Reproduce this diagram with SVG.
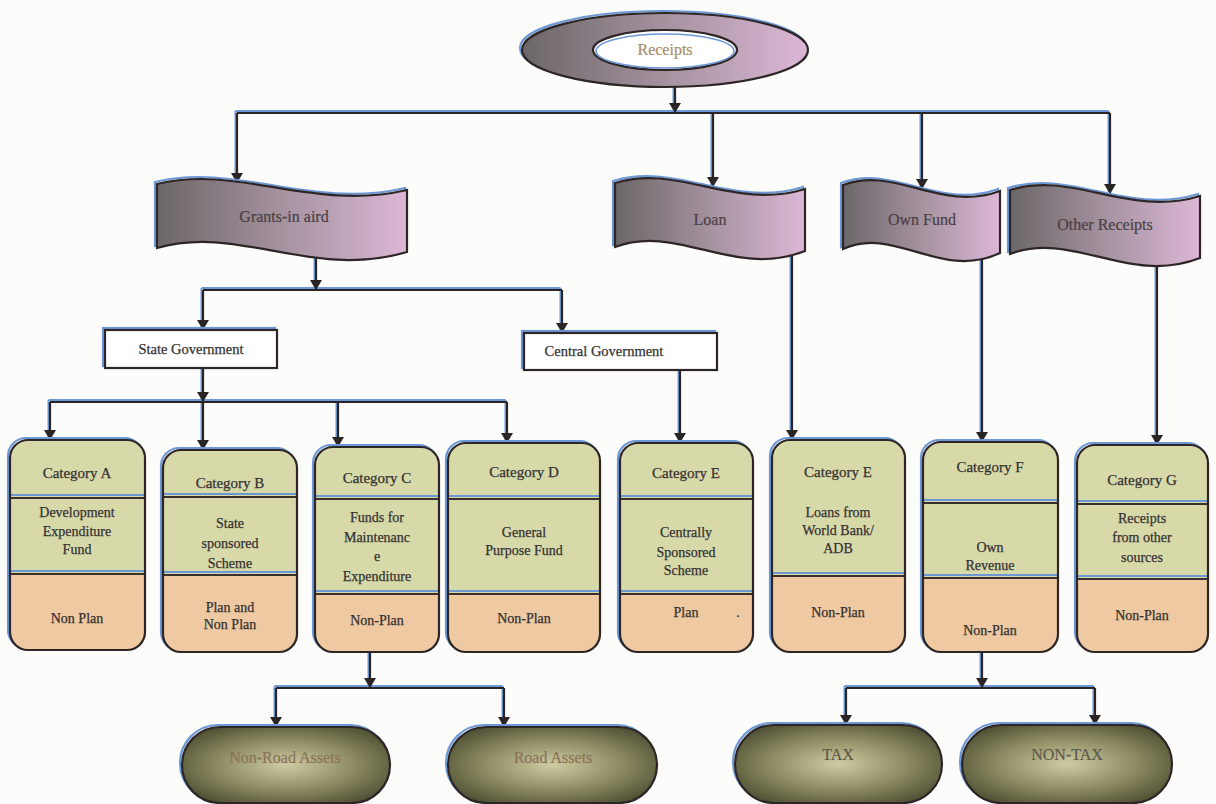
<svg xmlns="http://www.w3.org/2000/svg" xmlns:xlink="http://www.w3.org/1999/xlink" width="1216" height="804" viewBox="0 0 1216 804">
<style>
text{font-family:"Liberation Serif","Times New Roman",serif;text-anchor:middle;}
.t{font-size:14px;fill:#343232;stroke:#343232;stroke-width:0.25;}
.h{font-size:15px;}
.bt{font-size:16px;fill:#4a4042;stroke:#4a4042;stroke-width:0.2;}
.ot{font-size:16px;fill:#8a7358;stroke:#8a7358;stroke-width:0.2;}
.halo{fill:none;stroke:#6d98d6;stroke-width:2.2;}
.edge{stroke:#2e2626;stroke-width:2.2;}
.nofill{fill:none;}
.peach{fill:#efc9a1;}
.green{fill:#d8d9a9;}
.divb{stroke:#6d98d6;stroke-width:2;}
.divd{stroke:#3a2f2c;stroke-width:2;}
.wireS{fill:none;stroke:#6d98d6;stroke-width:2;}
.wireD{fill:none;stroke:#2b2424;stroke-width:2.2;}
</style>
<defs>
<linearGradient id="gBan" x1="0" y1="0" x2="1" y2="0">
<stop offset="0" stop-color="#6b6668"/>
<stop offset="0.5" stop-color="#a5929f"/>
<stop offset="1" stop-color="#dcb7d6"/>
</linearGradient>
<radialGradient id="gOval" cx="0.5" cy="0.5" r="0.6">
<stop offset="0" stop-color="#cfcca3"/>
<stop offset="0.55" stop-color="#8d8b62"/>
<stop offset="1" stop-color="#4d4f33"/>
</radialGradient>
<marker id="arr" viewBox="0 0 10 12" refX="10" refY="6" markerWidth="10" markerHeight="12" markerUnits="userSpaceOnUse" orient="auto">
<path d="M0,0 L10,6 L0,12 Z" fill="#2b2424"/>
</marker>
<g id="arrows">
<path d="M675,87 V113"/>
<path d="M237,113 V183"/>
<path d="M713,113 V187"/>
<path d="M922,113 V189"/>
<path d="M1110,113 V194"/>
<path d="M316,258 V290"/>
<path d="M203,290 V330"/>
<path d="M562,290 V333"/>
<path d="M203,368 V402"/>
<path d="M50,402 V440"/>
<path d="M203,402 V450"/>
<path d="M338,402 V447"/>
<path d="M507,402 V443"/>
<path d="M680,370 V443"/>
<path d="M792,253 V440"/>
<path d="M982,256 V442"/>
<path d="M1157,264 V445"/>
<path d="M370,652 V688"/>
<path d="M276,688 V727"/>
<path d="M504,688 V727"/>
<path d="M982,652 V688"/>
<path d="M846,688 V725"/>
<path d="M1095,688 V725"/>
</g>
<g id="buses">
<path d="M237,113 H1110"/>
<path d="M203,290 H562"/>
<path d="M50,402 H507"/>
<path d="M276,688 H504"/>
<path d="M846,688 H1095"/>
</g>
</defs>
<rect width="1216" height="804" fill="#fcfcfb"/>

<g id="connectors">
<use xlink:href="#buses" class="wireS" transform="translate(-1.5,-2)"/>
<use xlink:href="#arrows" class="wireS" transform="translate(-1.5,-2)"/>
<use xlink:href="#buses" class="wireD"/>
<use xlink:href="#arrows" class="wireD" style="marker-end:url(#arr)"/>
</g>

<g id="receipts">
<ellipse cx="663" cy="48" rx="143" ry="37" class="halo"/>
<ellipse cx="665" cy="50" rx="143" ry="37" fill="url(#gBan)" class="edge"/>
<ellipse cx="665" cy="50" rx="72" ry="20" fill="#ffffff" class="edge"/>
<ellipse cx="665" cy="51" rx="69" ry="17" fill="none" stroke="#6d98d6" stroke-width="1.6"/>
<text x="665" y="55" class="bt" style="fill:#a88e6c;stroke:#a88e6c">Receipts</text>
</g>

<g id="grants" transform="translate(157,184)">
<path d="M0,0 C82,-20 155,28 250,6 L250,68 C155,96 82,40 0,64 Z" class="halo" transform="translate(-2,-2)"/>
<path d="M0,0 C82,-20 155,28 250,6 L250,68 C155,96 82,40 0,64 Z" fill="url(#gBan)" class="edge"/>
<text x="127" y="38" class="bt">Grants-in aird</text>
</g>
<g id="loan" transform="translate(615,183)">
<path d="M0,0 C63,-20 118,28 190,6 L190,68 C118,96 63,40 0,64 Z" class="halo" transform="translate(-2,-2)"/>
<path d="M0,0 C63,-20 118,28 190,6 L190,68 C118,96 63,40 0,64 Z" fill="url(#gBan)" class="edge"/>
<text x="95" y="42" class="bt">Loan</text>
</g>
<g id="ownfund" transform="translate(843,185)">
<path d="M0,0 C52,-20 97,28 157,6 L157,68 C97,96 52,40 0,64 Z" class="halo" transform="translate(-2,-2)"/>
<path d="M0,0 C52,-20 97,28 157,6 L157,68 C97,96 52,40 0,64 Z" fill="url(#gBan)" class="edge"/>
<text x="79" y="40" class="bt">Own Fund</text>
</g>
<g id="other" transform="translate(1010,190)">
<path d="M0,0 C63,-20 118,28 190,6 L190,68 C118,96 63,40 0,64 Z" class="halo" transform="translate(-2,-2)"/>
<path d="M0,0 C63,-20 118,28 190,6 L190,68 C118,96 63,40 0,64 Z" fill="url(#gBan)" class="edge"/>
<text x="95" y="40" class="bt">Other Receipts</text>
</g>

<g id="stategov">
<rect x="103" y="328" width="172" height="38" class="halo"/>
<rect x="105" y="330" width="172" height="38" fill="#ffffff" class="edge"/>
<text x="191" y="354" class="t" style="font-size:14.5px">State Government</text>
</g>
<g id="centralgov">
<rect x="522" y="331" width="193" height="37" class="halo"/>
<rect x="524" y="333" width="193" height="37" fill="#ffffff" class="edge"/>
<text x="604" y="356" class="t" style="font-size:14.5px">Central Government</text>
</g>

<g id="cat-a">
<rect x="8" y="438" width="135" height="210" rx="18" class="halo"/>
<rect x="10" y="440" width="135" height="210" rx="18" class="peach"/>
<path d="M10,573 V458 A18,18 0 0 1 28,440 H127 A18,18 0 0 1 145,458 V573 Z" class="green"/>
<line x1="10" y1="495" x2="145" y2="495" class="divb"/><line x1="10" y1="498" x2="145" y2="498" class="divd"/>
<line x1="10" y1="571" x2="145" y2="571" class="divb"/><line x1="10" y1="574" x2="145" y2="574" class="divd"/>
<rect x="10" y="440" width="135" height="210" rx="18" class="edge nofill"/>
<text x="77" y="478" class="t h">Category A</text>
<text x="77" y="517" class="t">Development</text>
<text x="77" y="536" class="t">Expenditure</text>
<text x="77" y="554" class="t">Fund</text>
<text x="77" y="623" class="t">Non Plan</text>
</g>

<g id="cat-b">
<rect x="161" y="448" width="134" height="202" rx="18" class="halo"/>
<rect x="163" y="450" width="134" height="202" rx="18" class="peach"/>
<path d="M163,574 V468 A18,18 0 0 1 181,450 H279 A18,18 0 0 1 297,468 V574 Z" class="green"/>
<line x1="163" y1="494" x2="297" y2="494" class="divb"/><line x1="163" y1="497" x2="297" y2="497" class="divd"/>
<line x1="163" y1="572" x2="297" y2="572" class="divb"/><line x1="163" y1="575" x2="297" y2="575" class="divd"/>
<rect x="163" y="450" width="134" height="202" rx="18" class="edge nofill"/>
<text x="230" y="488" class="t h">Category B</text>
<text x="230" y="528" class="t">State</text>
<text x="230" y="548" class="t">sponsored</text>
<text x="230" y="568" class="t">Scheme</text>
<text x="230" y="612" class="t">Plan and</text>
<text x="230" y="629" class="t">Non Plan</text>
</g>

<g id="cat-c">
<rect x="313" y="445" width="124" height="205" rx="18" class="halo"/>
<rect x="315" y="447" width="124" height="205" rx="18" class="peach"/>
<path d="M315,593 V465 A18,18 0 0 1 333,447 H421 A18,18 0 0 1 439,465 V593 Z" class="green"/>
<line x1="315" y1="496" x2="439" y2="496" class="divb"/><line x1="315" y1="499" x2="439" y2="499" class="divd"/>
<line x1="315" y1="591" x2="439" y2="591" class="divb"/><line x1="315" y1="594" x2="439" y2="594" class="divd"/>
<rect x="315" y="447" width="124" height="205" rx="18" class="edge nofill"/>
<text x="377" y="483" class="t h">Category C</text>
<text x="377" y="522" class="t">Funds for</text>
<text x="377" y="542" class="t">Maintenanc</text>
<text x="377" y="561" class="t">e</text>
<text x="377" y="581" class="t">Expenditure</text>
<text x="377" y="625" class="t">Non-Plan</text>
</g>

<g id="cat-d">
<rect x="446" y="441" width="152" height="209" rx="18" class="halo"/>
<rect x="448" y="443" width="152" height="209" rx="18" class="peach"/>
<path d="M448,593 V461 A18,18 0 0 1 466,443 H582 A18,18 0 0 1 600,461 V593 Z" class="green"/>
<line x1="448" y1="496" x2="600" y2="496" class="divb"/><line x1="448" y1="499" x2="600" y2="499" class="divd"/>
<line x1="448" y1="591" x2="600" y2="591" class="divb"/><line x1="448" y1="594" x2="600" y2="594" class="divd"/>
<rect x="448" y="443" width="152" height="209" rx="18" class="edge nofill"/>
<text x="524" y="477" class="t h">Category D</text>
<text x="524" y="537" class="t">General</text>
<text x="524" y="555" class="t">Purpose Fund</text>
<text x="524" y="623" class="t">Non-Plan</text>
</g>

<g id="cat-e">
<rect x="618" y="441" width="133" height="209" rx="18" class="halo"/>
<rect x="620" y="443" width="133" height="209" rx="18" class="peach"/>
<path d="M620,593 V461 A18,18 0 0 1 638,443 H735 A18,18 0 0 1 753,461 V593 Z" class="green"/>
<line x1="620" y1="496" x2="753" y2="496" class="divb"/><line x1="620" y1="499" x2="753" y2="499" class="divd"/>
<line x1="620" y1="591" x2="753" y2="591" class="divb"/><line x1="620" y1="594" x2="753" y2="594" class="divd"/>
<rect x="620" y="443" width="133" height="209" rx="18" class="edge nofill"/>
<text x="686" y="478" class="t h">Category E</text>
<text x="686" y="537" class="t">Centrally</text>
<text x="686" y="557" class="t">Sponsored</text>
<text x="686" y="575" class="t">Scheme</text>
<text x="686" y="617" class="t">Plan</text>
<text x="738" y="617" class="t">.</text>
</g>

<g id="cat-e2">
<rect x="770" y="438" width="133" height="212" rx="18" class="halo"/>
<rect x="772" y="440" width="133" height="212" rx="18" class="peach"/>
<path d="M772,575 V458 A18,18 0 0 1 790,440 H887 A18,18 0 0 1 905,458 V575 Z" class="green"/>
<line x1="772" y1="573" x2="905" y2="573" class="divb"/><line x1="772" y1="576" x2="905" y2="576" class="divd"/>
<rect x="772" y="440" width="133" height="212" rx="18" class="edge nofill"/>
<text x="838" y="477" class="t h">Category E</text>
<text x="838" y="517" class="t">Loans from</text>
<text x="838" y="535" class="t">World Bank/</text>
<text x="838" y="553" class="t">ADB</text>
<text x="838" y="617" class="t">Non-Plan</text>
</g>

<g id="cat-f">
<rect x="921" y="440" width="135" height="210" rx="18" class="halo"/>
<rect x="923" y="442" width="135" height="210" rx="18" class="peach"/>
<path d="M923,577 V460 A18,18 0 0 1 941,442 H1040 A18,18 0 0 1 1058,460 V577 Z" class="green"/>
<line x1="923" y1="500" x2="1058" y2="500" class="divb"/><line x1="923" y1="503" x2="1058" y2="503" class="divd"/>
<line x1="923" y1="575" x2="1058" y2="575" class="divb"/><line x1="923" y1="578" x2="1058" y2="578" class="divd"/>
<rect x="923" y="442" width="135" height="210" rx="18" class="edge nofill"/>
<text x="990" y="472" class="t h">Category F</text>
<text x="990" y="552" class="t">Own</text>
<text x="990" y="570" class="t">Revenue</text>
<text x="990" y="635" class="t">Non-Plan</text>
</g>

<g id="cat-g">
<rect x="1075" y="443" width="131" height="207" rx="18" class="halo"/>
<rect x="1077" y="445" width="131" height="207" rx="18" class="peach"/>
<path d="M1077,578 V463 A18,18 0 0 1 1095,445 H1190 A18,18 0 0 1 1208,463 V578 Z" class="green"/>
<line x1="1077" y1="501" x2="1208" y2="501" class="divb"/><line x1="1077" y1="504" x2="1208" y2="504" class="divd"/>
<line x1="1077" y1="576" x2="1208" y2="576" class="divb"/><line x1="1077" y1="579" x2="1208" y2="579" class="divd"/>
<rect x="1077" y="445" width="131" height="207" rx="18" class="edge nofill"/>
<text x="1142" y="485" class="t h">Category G</text>
<text x="1142" y="523" class="t">Receipts</text>
<text x="1142" y="542" class="t">from other</text>
<text x="1142" y="562" class="t">sources</text>
<text x="1142" y="620" class="t">Non-Plan</text>
</g>

<g id="nonroad">
<rect x="180" y="725" width="208" height="76" rx="38" class="halo"/>
<rect x="182" y="727" width="208" height="76" rx="38" fill="url(#gOval)" class="edge"/>
<text x="285" y="763" class="ot">Non-Road Assets</text>
</g>
<g id="road">
<rect x="446" y="725" width="209" height="76" rx="38" class="halo"/>
<rect x="448" y="727" width="209" height="76" rx="38" fill="url(#gOval)" class="edge"/>
<text x="553" y="763" class="ot">Road Assets</text>
</g>
<g id="tax">
<rect x="733" y="723" width="207" height="78" rx="39" class="halo"/>
<rect x="735" y="725" width="207" height="78" rx="39" fill="url(#gOval)" class="edge"/>
<text x="838" y="760" class="ot" style="fill:#5e5a4a;stroke:#5e5a4a">TAX</text>
</g>
<g id="nontax">
<rect x="960" y="723" width="210" height="78" rx="39" class="halo"/>
<rect x="962" y="725" width="210" height="78" rx="39" fill="url(#gOval)" class="edge"/>
<text x="1067" y="760" class="ot" style="fill:#5e5a4a;stroke:#5e5a4a">NON-TAX</text>
</g>
</svg>
